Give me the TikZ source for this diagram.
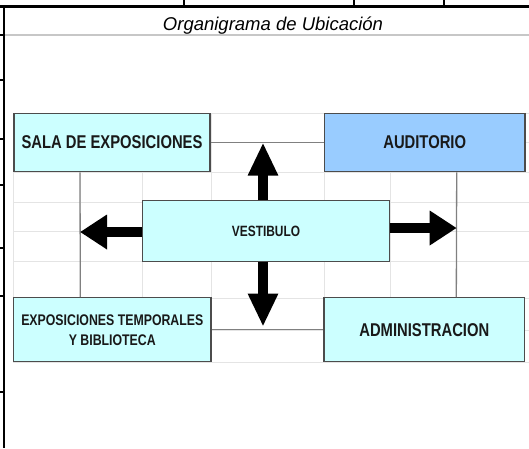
\documentclass[tikz,border=0pt]{standalone}
\usepackage{fontspec}
\setmainfont{Liberation Sans}
\newfontfamily\boxfont{Liberation Sans}[FakeStretch=0.8]
\usetikzlibrary{arrows.meta}
\definecolor{celeste}{HTML}{CCFFFF}
\definecolor{azulaudit}{HTML}{99CCFF}
\definecolor{rejilla}{HTML}{E4E4E4}
\definecolor{conector}{HTML}{808080}
\begin{document}
\begin{tikzpicture}[x=1pt, y=-1pt,
    caja/.style={draw=black!70, line width=1.2pt, fill=celeste, inner sep=0pt,
      text=black!90, align=center, font=\boxfont\bfseries\fontsize{18.5}{20}\selectfont},
    enlace/.style={draw=conector, line width=1.3pt},
    flechav/.style={line width=10pt, -{Triangle[width=28pt,length=33pt]}},
    flechah/.style={line width=10pt, -{Triangle[width=33pt,length=27pt]}}]
    \useasboundingbox (0,0) rectangle (529,448);

    % --- rejilla de la hoja ---
    \foreach \y in {113,142,172,202,231,261,298,330,362}
        \draw[rejilla, line width=1pt] (13,\y) -- (529,\y);
    \foreach \x in {13,80,142,211,324,390,456}
        \draw[rejilla, line width=1pt] (\x,113) -- (\x,362);

    % --- marco y titulo ---
    \draw[line width=2.5pt] (0,6.7) -- (529,6.7);
    \draw[line width=2.5pt] (4,6.7) -- (4,448);
    \foreach \x in {184,354,444}
        \draw[line width=1.5pt] (\x,0) -- (\x,6.7);
    \foreach \y in {35,80,139,185,248,296,392}
        \draw[line width=1.5pt] (0,\y) -- (4,\y);
    \draw[black!22, line width=1.3pt] (5,35) -- (529,35);
    \node[anchor=base, font=\itshape\fontsize{18.5}{20}\selectfont] (titulo)
        at (273,30.7) {Organigrama de Ubicación};

    % --- areas ---
    \node[caja, minimum width=196pt, minimum height=58.5pt] (sala)
        at (112,142.5) {SALA DE EXPOSICIONES};
    \node[caja, fill=azulaudit, minimum width=200.7pt, minimum height=58.5pt] (audit)
        at (424.7,142.5) {AUDITORIO};
    \node[caja, minimum width=246.6pt, minimum height=60.3pt,
        font=\boxfont\bfseries\fontsize{14.9}{16}\selectfont] (vest)
        at (266,231) {VESTIBULO};
    \node[caja, minimum width=197.5pt, minimum height=64pt,
        font=\boxfont\bfseries\fontsize{15.4}{20}\selectfont] (expo)
        at (112.3,329.7) {EXPOSICIONES TEMPORALES\\Y BIBLIOTECA};
    \node[caja, minimum width=200.6pt, minimum height=64pt] (admin)
        at (424.3,329.7) {ADMINISTRACION};

    % --- conexiones ---
    \coordinate (conSala) at ([xshift=-32pt]sala.south);
    \coordinate (conExpo) at ([xshift=-32pt]expo.north);
    \coordinate (conAudit) at ([xshift=32pt]audit.south);
    \coordinate (conAdmin) at ([xshift=32pt]admin.north);
    \draw[enlace] (sala.east) -- (audit.west);
    \draw[enlace] (expo.east) -- (admin.west);
    \draw[enlace] (conSala) -- (conExpo);
    \draw[enlace] (conAudit) -- (conAdmin);

    % --- flechas desde el vestibulo ---
    \coordinate (ejeN) at ([xshift=-3pt]vest.north);
    \coordinate (ejeS) at ([xshift=-3pt]vest.south);
    \coordinate (ejeO) at ([yshift=-1pt]vest.west);
    \coordinate (ejeE) at ([yshift=3pt]vest.east);
    \coordinate (puntaN) at (ejeN |- sala.east);
    \coordinate (puntaS) at ([yshift=3pt]ejeS |- expo.east);
    \coordinate (puntaO) at (conSala |- ejeO);
    \coordinate (puntaE) at (conAudit |- ejeE);
    \draw[flechav] (ejeN) -- (puntaN);
    \draw[flechav] (ejeS) -- (puntaS);
    \draw[flechah] (ejeO) -- (puntaO);
    \draw[flechah] (ejeE) -- (puntaE);
\end{tikzpicture}
\end{document}
